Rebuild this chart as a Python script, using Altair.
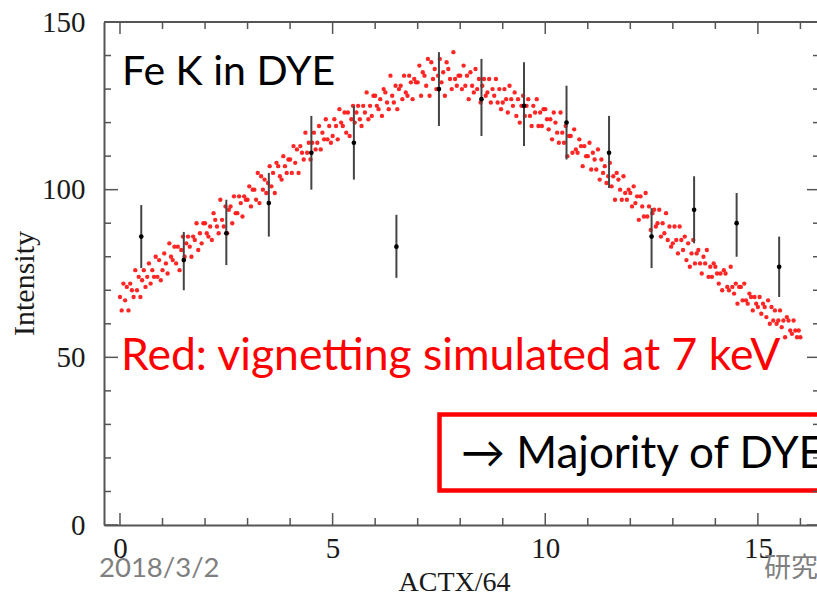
import altair as alt
import pandas as pd

# ---------------- data ----------------
# red: simulated vignetting (Intensity), ACTX/64 from 0 to 16 in steps of 0.04
red_y = [
    68, 64, 72, 67, 71, 64, 72, 70, 68, 76, 70, 74, 68, 73, 76, 71, 74, 78, 72, 76, 74, 80, 74, 79, 73,
    76, 81, 78, 75, 84, 80, 79, 83, 78, 83, 76, 82, 86, 80, 84, 86, 83, 80, 86, 85, 90, 82, 87, 84, 90,
    90, 87, 86, 89, 85, 93, 91, 89, 87, 97, 91, 89, 95, 87, 94, 95, 90, 98, 93, 93, 98, 96, 92, 98, 97,
    97, 101, 95, 100, 100, 97, 105, 96, 104, 100, 103, 99, 102, 107, 101, 105, 99, 108, 107, 104, 103, 110, 107, 105, 109,
    109, 105, 113, 108, 112, 105, 113, 111, 109, 117, 111, 114, 109, 114, 117, 112, 114, 119, 112, 117, 115, 121, 115, 119, 114,
    116, 121, 119, 115, 124, 120, 119, 123, 117, 123, 116, 121, 125, 120, 123, 125, 121, 119, 125, 123, 129, 121, 125, 122, 128,
    128, 125, 124, 127, 122, 130, 129, 126, 124, 134, 128, 126, 131, 124, 130, 131, 127, 134, 129, 128, 134, 132, 127, 133, 132,
    132, 137, 128, 135, 134, 131, 139, 128, 138, 133, 136, 130, 134, 139, 132, 135, 128, 138, 136, 133, 130, 141, 133, 131, 134,
    134, 130, 137, 131, 134, 127, 135, 131, 129, 136, 130, 133, 126, 131, 133, 128, 129, 133, 126, 130, 128, 133, 126, 130, 124,
    126, 130, 127, 123, 131, 127, 125, 129, 122, 127, 120, 125, 128, 122, 125, 127, 122, 119, 125, 123, 127, 119, 123, 119, 124,
    124, 121, 118, 121, 115, 123, 120, 117, 114, 123, 117, 114, 119, 110, 116, 116, 111, 118, 112, 111, 115, 113, 107, 113, 110,
    110, 114, 106, 111, 109, 106, 112, 103, 109, 105, 107, 102, 104, 108, 101, 104, 97, 105, 103, 100, 97, 104, 99, 97, 100,
    99, 95, 101, 96, 98, 91, 98, 95, 92, 99, 92, 95, 88, 93, 94, 89, 90, 94, 86, 90, 87, 93, 85, 89, 83,
    84, 89, 85, 81, 89, 85, 82, 86, 79, 84, 77, 81, 85, 78, 81, 82, 78, 75, 80, 78, 82, 74, 77, 74, 78,
    77, 75, 72, 75, 70, 76, 75, 71, 70, 77, 71, 69, 72, 66, 71, 71, 67, 72, 67, 66, 69, 68, 64, 68, 66,
    65, 68, 63, 66, 65, 62, 67, 60, 65, 61, 64, 60, 61, 64, 59, 61, 56, 62, 61, 58, 57, 61, 58, 56, 58,
    56,
]
red_x = [i * 0.04 for i in range(len(red_y))]

# black: observed Fe K intensity with error bars
obs_x = [0.5, 1.5, 2.5, 3.5, 4.5, 5.5, 6.5, 7.5, 8.5, 9.5, 10.5, 11.5, 12.5, 13.5, 14.5, 15.5]
obs_y = [86, 79, 87, 96, 111, 114, 83, 130, 127, 125, 120, 111, 86, 94, 90, 77]
obs_lo = [76.6, 70, 77.5, 86, 100, 103, 73.7, 119, 116, 113, 109, 100.5, 76.6, 84, 80, 68]
obs_hi = [95.4, 87.4, 97, 105, 122, 125, 92.5, 141, 139, 138, 131, 122, 94.5, 104, 99, 86]

x_ticks_major = [0, 5, 10, 15]
y_ticks_major = [0, 50, 100, 150]

# ---------------- layout ----------------
W, H = 713, 503
XDOM = [-0.376, 16.39]
YDOM = [0, 150]
PX_X = W / (XDOM[1] - XDOM[0])
PX_Y = H / (YDOM[1] - YDOM[0])

xs = alt.Scale(domain=XDOM, nice=False, zero=False)
ys = alt.Scale(domain=YDOM, nice=False, zero=False)

SERIF = "Liberation Serif"
SANS = "Lato"
AXC = "#555555"
TXT = "#1a1a1a"

red_df = pd.DataFrame({"x": red_x, "y": red_y})
obs_df = pd.DataFrame({"x": obs_x, "y": obs_y, "lo": obs_lo, "hi": obs_hi})

base_x = alt.X(
    "x:Q", scale=xs, title="ACTX/64",
    axis=alt.Axis(values=x_ticks_major, ticks=False, grid=False, domain=True,
                  domainColor=AXC, domainWidth=2, labelFont=SERIF, labelFontSize=29,
                  labelColor=TXT, labelPadding=9, labelFlush=False,
                  titleFont=SERIF, titleFontSize=28, titleFontWeight="normal",
                  titleColor=TXT, titleBaseline="alphabetic", titleY=65, titleX=350),
)
base_y = alt.Y(
    "y:Q", scale=ys, title="Intensity",
    axis=alt.Axis(values=y_ticks_major, ticks=False, grid=False, domain=True,
                  domainColor=AXC, domainWidth=2, labelFont=SERIF, labelFontSize=29,
                  labelColor=TXT, labelPadding=19, labelFlush=False,
                  titleFont=SERIF, titleFontSize=30, titleFontWeight="normal",
                  titleColor=TXT, titleBaseline="alphabetic", titleAngle=-90,
                  titleX=-71, titleY=261, titleAlign="center"),
)

red = alt.Chart(red_df).mark_circle(size=19, color="#ff1a1a", opacity=0.95).encode(x=base_x, y=base_y)

err = alt.Chart(obs_df).mark_rule(color="#444444", strokeWidth=2).encode(
    x=alt.X("x:Q", scale=xs), y=alt.Y("lo:Q", scale=ys), y2="hi:Q")
pts = alt.Chart(obs_df).mark_circle(size=22, color="#000000", opacity=1).encode(
    x=alt.X("x:Q", scale=xs), y=alt.Y("y:Q", scale=ys))

# inward ticks on all sides
vt = []
for v in range(0, 17):
    L = (12 if v % 5 == 0 else 7) / PX_Y
    vt.append({"x": v, "y": 0, "y2": L})
    vt.append({"x": v, "y": 150, "y2": 150 - L})
ht = []
for v in range(0, 151, 10):
    L = (14 if v % 50 == 0 else 7) / PX_X
    ht.append({"x": XDOM[0], "x2": XDOM[0] + L, "y": v})
    ht.append({"x": XDOM[1] - (10 if v % 50 == 0 else 4) / PX_X, "x2": XDOM[1], "y": v})
vtick = alt.Chart(pd.DataFrame(vt)).mark_rule(color=AXC, strokeWidth=1.5).encode(
    x=alt.X("x:Q", scale=xs), y=alt.Y("y:Q", scale=ys), y2="y2:Q")
htick = alt.Chart(pd.DataFrame(ht)).mark_rule(color=AXC, strokeWidth=1.5).encode(
    x=alt.X("x:Q", scale=xs), x2="x2:Q", y=alt.Y("y:Q", scale=ys))
topline = alt.Chart(pd.DataFrame({"a": [0]})).mark_rule(color=AXC, strokeWidth=2).encode(
    x=alt.datum(XDOM[0]), x2=alt.datum(XDOM[1]), y=alt.datum(150))

# annotations (slide overlay)
def label(txt, px, py, color, size, font=SANS, align="left"):
    return alt.Chart(pd.DataFrame({"t": [txt]})).mark_text(
        align=align, baseline="alphabetic", font=font, fontSize=size, color=color
    ).encode(text="t:N", x=alt.value(px - 104), y=alt.value(py - 22))

t_fe = label("Fe K in DYE", 122, 85, "#000000", 41)
t_red = label("Red: vignetting simulated at 7 keV", 121, 370, "#ff0000", 44.5)
box = alt.Chart(pd.DataFrame({"a": [0]})).mark_rect(
    fillOpacity=0, fill="white", stroke="#ff0000", strokeWidth=4.5
).encode(x=alt.value(439.5 - 104), x2=alt.value(860 - 104),
         y=alt.value(414.5 - 22), y2=alt.value(490.5 - 22))
t_box = label("\u2192 Majority of DYE", 461, 468, "#000000", 44)
t_date = label("2018/3/2", 99, 577, "#7f7f7f", 27.5)
t_ken = label("研究", 764, 577, "#7f7f7f", 27, font="Noto Sans CJK JP")

chart = alt.layer(
    box, red, err, pts, vtick, htick, topline, t_fe, t_red, t_box, t_date, t_ken
).properties(
    width=W, height=H,
    autosize=alt.AutoSizeParams(type="none"),
    padding={"left": 104, "top": 22, "right": 0, "bottom": 69},
    background="white",
).configure_view(stroke=None)

chart.save("out.html", embed_options={"renderer": "svg", "actions": False})
